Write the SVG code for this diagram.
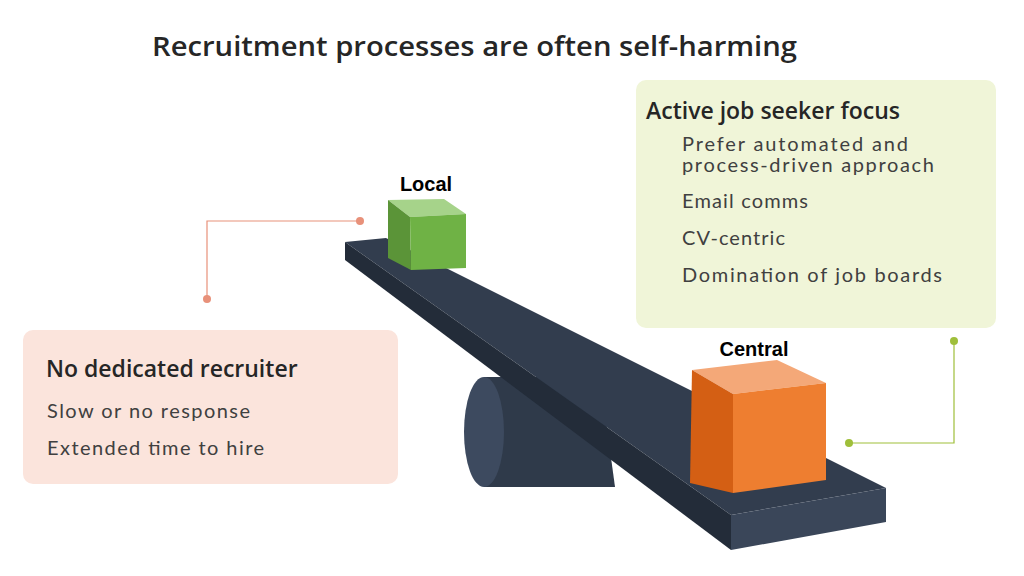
<svg xmlns="http://www.w3.org/2000/svg" width="1024" height="576" viewBox="0 0 1024 576">
<style>
.h{font-family:"Open Sans","Liberation Sans",sans-serif;font-weight:600;fill:#262626}
.b{font-family:"Lato","Liberation Sans",sans-serif;fill:#404040;font-size:20px}
.lbl{font-family:"Liberation Sans",sans-serif;font-weight:bold;font-size:20px;fill:#000}
</style>
<rect width="1024" height="576" fill="#fff"/>
<text class="h" x="152" y="56" font-size="27" textLength="645" lengthAdjust="spacingAndGlyphs">Recruitment processes are often self-harming</text>
<g id="seeker-box">
<rect x="636" y="80" width="360" height="248" rx="10" fill="#f0f5d8"/>
<text class="h" x="646" y="119" font-size="23">Active job seeker focus</text>
<text class="b" x="682" y="151" font-size="19" textLength="226">Prefer automated and</text>
<text class="b" x="682" y="172" font-size="19" textLength="252">process-driven approach</text>
<text class="b" x="682" y="208" textLength="126">Email comms</text>
<text class="b" x="682" y="245" textLength="103">CV-centric</text>
<text class="b" x="682" y="282" textLength="260">Domination of job boards</text>
</g>
<g id="recruiter-box">
<rect x="23" y="330" width="375" height="154" rx="10" fill="#fbe4dc"/>
<text class="h" x="46" y="377" font-size="23">No dedicated recruiter</text>
<text class="b" x="47" y="418" textLength="203">Slow or no response</text>
<text class="b" x="47" y="455" textLength="217">Extended time to hire</text>
</g>
<g id="connectors" fill="none" stroke-width="1.2">
<polyline points="360,221 207,221 207,299" stroke="#e8917a"/>
<circle cx="360" cy="221" r="4" fill="#e8917a" stroke="none"/>
<circle cx="207" cy="299" r="4" fill="#e8917a" stroke="none"/>
<polyline points="954,341 954,443 849,443" stroke="#9fbf3a"/>
<circle cx="954" cy="341" r="4" fill="#9fbf3a" stroke="none"/>
<circle cx="849" cy="443" r="4" fill="#9fbf3a" stroke="none"/>
</g>
<g id="fulcrum">
<path d="M484,377 L600,377 L615,487 L484,487 Z" fill="#2f3a4a"/>
<ellipse cx="484" cy="432" rx="20" ry="55" fill="#3d4a5f"/>
</g>
<g id="plank">
<polygon points="345,242 386,238 886,488 731,515" fill="#323d4e"/>
<polygon points="345,242 731,515 731,550 345,260" fill="#232c39"/>
<polygon points="731,515 886,488 886,522 731,550" fill="#3a4659"/>
</g>
<g id="local">
<polygon points="388,200 444,199 466,214 410,217" fill="#a6d38a"/>
<polygon points="388,200 410,217 411,270 388,258" fill="#5b9438"/>
<polygon points="410,217 466,214 466,268 411,270" fill="#6fb245"/>
<text class="lbl" x="426" y="191" text-anchor="middle">Local</text>
</g>
<g id="central">
<polygon points="692,370 777,360 826,383 733,394" fill="#f4a878"/>
<polygon points="692,370 733,394 733,493 690,483" fill="#d45f14"/>
<polygon points="733,394 826,383 826,480 733,493" fill="#ee7e30"/>
<text class="lbl" x="754" y="356" text-anchor="middle">Central</text>
</g>
</svg>
